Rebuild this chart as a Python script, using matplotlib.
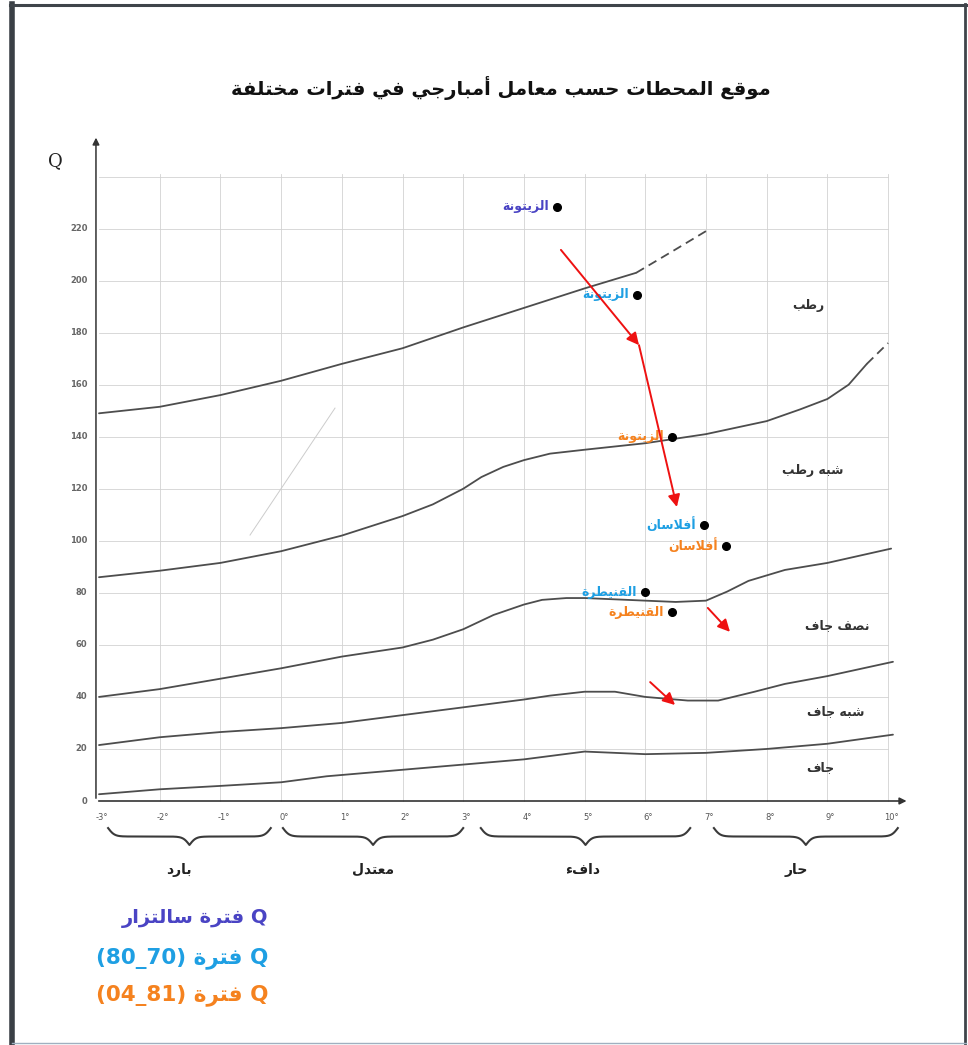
import numpy as np
import matplotlib
matplotlib.use("Agg")
import matplotlib.pyplot as plt
from matplotlib.lines import Line2D

# ---------------- data ----------------
title_text = "موقع المحطات حسب معامل أمبارجي في فترات مختلفة"

x_ticks = [-3, -2, -1, 0, 1, 2, 3, 4, 5, 6, 7, 8, 9, 10]
y_ticks = [0, 20, 40, 60, 80, 100, 120, 140, 160, 180, 200, 220]

# limit curves of the climagram (temperature m in °C, Q)
c1_x = [-3, -2, -1, 0, 1, 2, 3, 4, 5, 5.85]
c1_y = [149, 151.5, 156, 161.5, 168, 174, 182, 189.5, 197, 203]
c1d_x = [5.85, 6.5, 7.07]
c1d_y = [203, 212, 220]

c2_x = [-3, -2, -1, 0, 1, 2, 2.5, 3, 3.3, 3.66, 4, 4.43, 5, 6, 7, 8, 8.55, 9, 9.35, 9.65]
c2_y = [86, 88.5, 91.5, 96, 102, 109.5, 114, 120, 124.5, 128.4, 131, 133.5, 135, 137.5, 141, 146, 150.5, 154.5, 160, 168]
c2d_x = [9.65, 10.0]
c2d_y = [168, 176]

c3_x = [-3, -2, -1, 0, 1, 2, 2.5, 3, 3.5, 4, 4.3, 4.7, 5, 6, 6.5, 7, 7.35, 7.7, 8.3, 9, 10.05]
c3_y = [40, 43, 47, 51, 55.5, 59, 62, 66, 71.5, 75.5, 77.3, 78, 78, 77, 76.5, 77, 80.5, 84.6, 88.8, 91.5, 97]

c4_x = [-3, -2, -1, 0, 1, 2, 3, 4, 4.43, 5, 5.5, 6, 6.7, 7.2, 7.8, 8.3, 9, 10.08]
c4_y = [21.5, 24.5, 26.5, 28, 30, 33, 36, 39, 40.5, 42, 42, 40, 38.6, 38.6, 42, 45, 48, 53.5]

c5_x = [-3, -2, -1, 0, 0.75, 1, 2, 3, 4, 5, 6, 7, 8, 9, 10.08]
c5_y = [2.6, 4.5, 5.8, 7.2, 9.5, 10, 12, 14, 16, 19, 18, 18.5, 20, 22, 25.5]

# stations
st_names = ["الزيتونة", "الزيتونة", "الزيتونة", "أفلاسان", "أفلاسان", "القنيطرة", "القنيطرة"]
st_period = [0, 1, 2, 1, 2, 1, 2]
st_m = [4.545, 5.863, 6.44, 6.967, 7.33, 5.995, 6.44]
st_q = [228.3, 194.5, 139.9, 106.1, 98.0, 80.3, 72.6]

period_colors = ["#4a44c4", "#1e9fe3", "#f5821f"]
period_word = "فترة"
period_names = ["سالتزار", "(80_70)", "(04_81)"]

# zones
zone_names = ["رطب", "شبه رطب", "نصف جاف", "شبه جاف", "جاف"]
zone_m = [8.68, 8.76, 9.16, 9.13, 8.88]
zone_q = [190.6, 127.2, 67.6, 34.2, 12.7]

# winter variants
var_names = ["بارد", "معتدل", "دافء", "حار"]
var_ranges = [(-2.85, -0.17), (0.03, 3.0), (3.29, 6.74), (7.13, 10.16)]
var_label_m = [-1.68, 1.51, 4.97, 8.48]

# red evolution arrows (start m, start Q, end m, end Q)
arrows = [
    (4.61, 211.8, 5.896, 175.2),
    (5.896, 175.2, 6.52, 113.0),
    (7.03, 74.2, 7.395, 65.0),
    (6.08, 45.7, 6.49, 36.9),
]

# ---------------- Arabic shaping helper ----------------
DUAL = {'ب': 0xFE8F, 'ت': 0xFE95, 'ث': 0xFE99, 'ج': 0xFE9D, 'ح': 0xFEA1, 'خ': 0xFEA5,
        'س': 0xFEB1, 'ش': 0xFEB5, 'ص': 0xFEB9, 'ض': 0xFEBD, 'ط': 0xFEC1, 'ظ': 0xFEC5,
        'ع': 0xFEC9, 'غ': 0xFECD, 'ف': 0xFED1, 'ق': 0xFED5, 'ك': 0xFED9, 'ل': 0xFEDD,
        'م': 0xFEE1, 'ن': 0xFEE5, 'ه': 0xFEE9, 'ي': 0xFEF1, 'ئ': 0xFE89}
RIGHT = {'ا': 0xFE8D, 'أ': 0xFE83, 'إ': 0xFE87, 'آ': 0xFE81, 'د': 0xFEA9, 'ذ': 0xFEAB,
         'ر': 0xFEAD, 'ز': 0xFEAF, 'و': 0xFEED, 'ة': 0xFE93, 'ى': 0xFEEF, 'ؤ': 0xFE85}
NONJ = {'ء': 0xFE80}
LAMALEF = {'ا': 0xFEFB, 'أ': 0xFEF7, 'إ': 0xFEF9, 'آ': 0xFEF5}


def shape(s):
    toks = []
    i = 0
    while i < len(s):
        c = s[i]
        if c == 'ل' and i + 1 < len(s) and s[i + 1] in LAMALEF:
            toks.append(('LA', s[i + 1]))
            i += 2
        else:
            toks.append(c)
            i += 1

    def kind(t):
        if isinstance(t, tuple):
            return 'R'
        if t in DUAL:
            return 'D'
        if t in RIGHT:
            return 'R'
        if t in NONJ:
            return 'N'
        return None

    out = []
    n = len(toks)
    for i, t in enumerate(toks):
        k = kind(t)
        pk = kind(toks[i - 1]) if i > 0 else None
        nk = kind(toks[i + 1]) if i < n - 1 else None
        jp = (k in ('D', 'R')) and pk == 'D'
        jn = (k == 'D') and nk in ('D', 'R')
        if isinstance(t, tuple):
            out.append(chr(LAMALEF[t[1]] + (1 if jp else 0)))
        elif k == 'D':
            off = 3 if (jp and jn) else 1 if jp else 2 if jn else 0
            out.append(chr(DUAL[t] + off))
        elif k == 'R':
            out.append(chr(RIGHT[t] + (1 if jp else 0)))
        elif k == 'N':
            out.append(chr(NONJ[t]))
        else:
            out.append(t)
    return ''.join(reversed(out))


# ---------------- figure ----------------
W, H = 968, 1045
fig = plt.figure(figsize=(W / 100, H / 100), dpi=100)
ax = fig.add_axes([0, 0, 1, 1])
ax.set_axis_off()
# pixel mapping: m=-3 -> x=99px, 60.7 px/°C ; Q=0 -> y=801px, 2.602 px/unit
ax.set_xlim(-3 - 99 / 60.7, -3 + (W - 99) / 60.7)
ax.set_ylim(-(H - 801) / 2.602, 801 / 2.602)

AR = "DejaVu Sans"
grid_c = "#d2d2d2"
curve_c = "#4d4d4d"

# grid
for xv in x_ticks[1:]:
    ax.plot([xv, xv], [0, 241], color=grid_c, lw=0.6, zorder=1)
for yv in y_ticks[1:] + [240]:
    ax.plot([-3, 10], [yv, yv], color=grid_c, lw=0.6, zorder=1)

# faint diagonal trace
ax.plot([0.888, -0.512], [151, 102.2], color="#cccccc", lw=0.7, zorder=1)

# axes with arrows
ax.annotate("", xy=(-3.05, 256), xytext=(-3.05, 0),
            arrowprops=dict(arrowstyle="-|>", color="#333", lw=1.1, mutation_scale=10), zorder=3)
ax.annotate("", xy=(10.35, 0), xytext=(-3.05, 0),
            arrowprops=dict(arrowstyle="-|>", color="#333", lw=1.2, mutation_scale=10), zorder=3)
ax.text(-3.72, 246, "Q", fontsize=13, family="DejaVu Serif", ha="center", va="center", color="#222")

for yv in y_ticks:
    ax.text(-3.19, yv, str(yv), fontsize=6, ha="right", va="center", color="#666",
            fontweight="bold")
for xv in x_ticks:
    ax.text(xv + 0.05, -6.5, f"{xv}°", fontsize=6, ha="center", va="center", color="#555")

# curves
for xs, ys in [(c1_x, c1_y), (c2_x, c2_y), (c3_x, c3_y), (c4_x, c4_y), (c5_x, c5_y)]:
    ax.plot(xs, ys, color=curve_c, lw=1.3, zorder=2, solid_capstyle="round",
            solid_joinstyle="round")
for xs, ys in [(c1d_x, c1d_y), (c2d_x, c2d_y)]:
    ax.plot(xs, ys, color=curve_c, lw=1.3, ls=(0, (5, 3)), zorder=2)

# zone labels
for name, m, q in zip(zone_names, zone_m, zone_q):
    ax.text(m, q, shape(name), family=AR, fontsize=9, fontweight="bold",
            ha="center", va="center", color="#333")

# braces for winter variants
def brace(x0, x1, ytop, h):
    n = 401
    xs = np.linspace(x0, x1, n)
    beta = 19.0
    half = xs[: n // 2 + 1]
    yh = 1 / (1 + np.exp(-beta * (half - half[0]))) + 1 / (1 + np.exp(-beta * (half - half[-1])))
    yy = np.concatenate((yh, yh[-2::-1]))
    ax.plot(xs, ytop - (yy - 0.5) * h, color="#3a3a3a", lw=1.5, zorder=2)

for (a, b), name, lm in zip(var_ranges, var_names, var_label_m):
    brace(a, b, -10.4, 6.5)
    ax.text(lm, -26.5, shape(name), family=AR, fontsize=10, fontweight="bold",
            ha="center", va="center", color="#222")

# stations
for name, p, m, q in zip(st_names, st_period, st_m, st_q):
    ax.plot(m, q, "o", color="black", ms=5.5, zorder=5)
    ax.text(m - 0.13, q, shape(name), family=AR, fontsize=9, fontweight="bold",
            ha="right", va="center", color=period_colors[p], zorder=5)

# red arrows
for x0, y0, x1, y1 in arrows:
    ax.annotate("", xy=(x1, y1), xytext=(x0, y0),
                arrowprops=dict(arrowstyle="-|>", color="#ee1111", lw=1.4,
                                mutation_scale=18, shrinkA=0, shrinkB=0), zorder=6)

# title
fig.text(501 / W, 1 - 88 / H, shape(title_text), family=AR, fontsize=14,
         fontweight="bold", ha="center", va="center", color="#111")

# legend (text only)
leg_y = [918, 958, 995]
leg_size = [14, 15.5, 15.5]
for i, (nm, col) in enumerate(zip(period_names, period_colors)):
    if i == 0:
        vis = shape(nm) + " " + shape(period_word) + " Q"
    else:
        vis = nm + " " + shape(period_word) + " Q"
    fig.text(268 / W, 1 - leg_y[i] / H, vis, family=AR, fontsize=leg_size[i],
             fontweight="bold", ha="right", va="center", color=col)

# page frame
def fline(x0, y0, x1, y1, lw, c):
    fig.add_artist(Line2D([x0 / W, x1 / W], [1 - y0 / H, 1 - y1 / H], lw=lw, color=c))

fline(12, 4, 12, 1045, 4.0, "#3a3f45")
fline(10, 5, 966, 5, 2.2, "#3f444a")
fline(965, 4, 965, 1045, 2.0, "#3f444a")
fline(12, 1043, 966, 1043, 1.0, "#9fb0c0")

fig.savefig("out.png", dpi=100, facecolor="white")
